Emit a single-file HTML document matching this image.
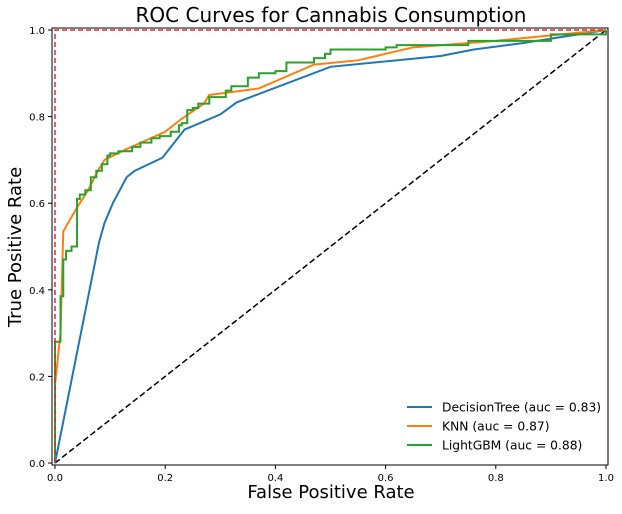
<!DOCTYPE html>
<html><head><meta charset="utf-8"><style>
body{margin:0;background:#fff;}
svg text{font-family:"DejaVu Sans","Liberation Sans",sans-serif;fill:#000;}
</style></head><body>
<svg id="c" width="622" height="509" viewBox="0 0 622 509" xmlns="http://www.w3.org/2000/svg">
<text x="331" y="22" font-size="20" text-anchor="middle">ROC Curves for Cannabis Consumption</text>
<text x="331" y="498" font-size="18" text-anchor="middle">False Positive Rate</text>
<text transform="translate(21,247) rotate(-90)" font-size="18" text-anchor="middle">True Positive Rate</text>
<g id="plot"></g>
<rect x="52" y="28" width="556" height="437" fill="none" stroke="#000" stroke-width="1"/>
<g>
<g><line x1="407" y1="407" x2="432" y2="407" stroke="#1f77b4" stroke-width="2"/><text x="442" y="411.5" font-size="12.3">DecisionTree (auc = 0.83)</text></g>
<g><line x1="407" y1="426" x2="432" y2="426" stroke="#ff7f0e" stroke-width="2"/><text x="442" y="430.5" font-size="12.3">KNN (auc = 0.87)</text></g>
<g><line x1="407" y1="445" x2="432" y2="445" stroke="#2ca02c" stroke-width="2"/><text x="442" y="449.5" font-size="12.3">LightGBM (auc = 0.88)</text></g>
</g>
</svg>
<script>
const ticks=[0,0.2,0.4,0.6,0.8,1.0];
const tickLabels=["0.0","0.2","0.4","0.6","0.8","1.0"];
const dtFpr=[0,0.08,0.09,0.105,0.13,0.145,0.195,0.235,0.3,0.33,0.5,0.7,0.76,0.85,1];
const dtTpr=[0,0.51,0.555,0.6,0.66,0.675,0.705,0.77,0.805,0.833,0.915,0.94,0.955,0.97,1];
const knnFpr=[0,0,0.01,0.015,0.04,0.06,0.08,0.09,0.13,0.2,0.23,0.27,0.28,0.37,0.47,0.55,0.65,0.8,1];
const knnTpr=[0,0.18,0.3,0.535,0.59,0.63,0.68,0.7,0.725,0.765,0.795,0.83,0.85,0.865,0.92,0.93,0.96,0.975,1];
const lgbFpr=[0,0,0.01,0.015,0.02,0.03,0.04,0.045,0.055,0.065,0.075,0.085,0.095,0.1,0.115,0.14,0.155,0.175,0.19,0.21,0.225,0.23,0.24,0.25,0.26,0.28,0.31,0.32,0.35,0.37,0.4,0.42,0.47,0.49,0.5,0.6,0.62,0.75,0.9,1];
const lgbTpr=[0,0.28,0.385,0.47,0.49,0.5,0.61,0.62,0.63,0.66,0.675,0.69,0.71,0.715,0.72,0.73,0.74,0.75,0.755,0.765,0.78,0.785,0.815,0.82,0.83,0.845,0.86,0.87,0.89,0.9,0.905,0.925,0.935,0.945,0.955,0.96,0.965,0.975,0.99,1];
const NS="http://www.w3.org/2000/svg";
const X=v=>55+v*551, Y=v=>463-v*433;
const svg=document.getElementById('c'), plot=document.getElementById('plot');
function mk(t,a,p){const e=document.createElementNS(NS,t);for(const k in a)e.setAttribute(k,a[k]);(p||plot).appendChild(e);return e;}
ticks.forEach((t,i)=>{
 const a=mk('line',{x1:X(t),x2:X(t),y1:465,y2:469,stroke:'#000'},svg);
 
 
 const b=mk('text',{x:X(t),y:481,'font-size':10,'text-anchor':'middle'},svg);b.textContent=tickLabels[i];
 
 
 const c=mk('line',{x1:48,x2:52,y1:Y(t),y2:Y(t),stroke:'#000'},svg);
 
 
 const d=mk('text',{x:45,y:Y(t)+4,'font-size':10,'text-anchor':'end'},svg);d.textContent=tickLabels[i];
 
 
});
const diag=mk('line',{x1:X(0),y1:Y(0),x2:X(1),y2:Y(1),stroke:'#000','stroke-width':1.5,'stroke-dasharray':'6,3'});


function line(xs,ys,col,name,step){
 let pts=[];
 for(let i=0;i<xs.length;i++){
  if(step&&i>0)pts.push(X(xs[i])+','+Y(ys[i-1]));
  pts.push(X(xs[i])+','+Y(ys[i]));
 }
 const p=mk('polyline',{points:pts.join(' '),fill:'none',stroke:col,'stroke-width':2});
 
 
}
line(dtFpr,dtTpr,'#1f77b4','decisiontree-curve',false);
line(knnFpr,knnTpr,'#ff7f0e','knn-curve',false);
line(lgbFpr,lgbTpr,'#2ca02c','lightgbm-curve',true);
const perf=mk('polyline',{points:`${X(0)},${Y(0)} ${X(0)},${Y(1)} ${X(1)},${Y(1)}`,fill:'none',stroke:'#e8222a','stroke-width':1.5,'stroke-dasharray':'5,3'});


</script>
</body></html>
